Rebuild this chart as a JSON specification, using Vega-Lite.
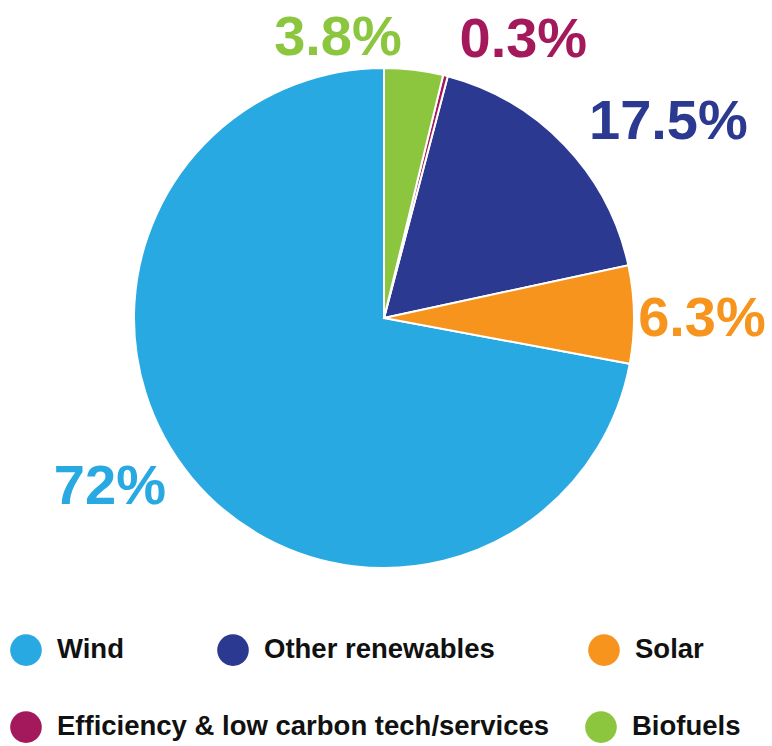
{
  "$schema": "https://vega.github.io/schema/vega-lite/v6.json",
  "width": 768,
  "height": 636,
  "autosize": {"type": "none"},
  "padding": {"left": 0, "top": 0, "right": 4, "bottom": 110},
  "background": "white",
  "view": {"stroke": null},
  "data": {
    "values": [
      {"category": "Wind", "value": 72, "label": "72%"},
      {"category": "Other renewables", "value": 17.5, "label": "17.5%"},
      {"category": "Solar", "value": 6.3, "label": "6.3%"},
      {"category": "Efficiency & low carbon tech/services", "value": 0.3, "label": "0.3%"},
      {"category": "Biofuels", "value": 3.8, "label": "3.8%"}
    ]
  },
  "layer": [
    {
      "mark": {"type": "arc", "radius": 250, "stroke": "white", "strokeWidth": 2},
      "encoding": {
        "theta": {"field": "value", "type": "quantitative", "stack": true},
        "order": {"field": "category", "sort": "ascending"},
        "color": {
          "field": "category", "type": "nominal",
          "scale": {
            "domain": ["Biofuels", "Efficiency & low carbon tech/services", "Other renewables", "Solar", "Wind"],
            "range": ["#8CC63F", "#A3195B", "#2B3990", "#F7941D", "#29A9E1"]
          },
          "legend": {
            "title": null, "orient": "none", "legendX": 10, "legendY": 634, "direction": "horizontal",
            "values": ["Wind", "Other renewables", "Solar"],
            "symbolType": "circle", "symbolSize": 1000, "symbolStrokeWidth": 0, "symbolOpacity": 1,
            "labelFontSize": 27.5, "labelFont": "Liberation Sans", "labelFontWeight": "bold", "labelColor": "#111111",
            "labelOffset": 15, "columnPadding": 93, "padding": 0, "labelLimit": 600
          }
        }
      }
    },
    {
      "mark": {"type": "text", "radius": 285, "dx": -80, "dy": 3, "fontSize": 56, "font": "Liberation Sans", "fontWeight": "bold", "baseline": "middle", "align": "center"},
      "encoding": {
        "theta": {"field": "value", "type": "quantitative", "stack": true},
        "order": {"field": "category", "sort": "ascending"},
        "fill": {
          "field": "category", "type": "nominal",
          "scale": {
            "domain": ["Wind", "Other renewables", "Solar", "Efficiency & low carbon tech/services", "Biofuels"],
            "range": ["#29A9E1", "#2B3990", "#F7941D", "#A3195B", "#8CC63F"]
          },
          "legend": {
            "title": null, "orient": "none", "legendX": 10, "legendY": 711, "direction": "horizontal",
            "values": ["Efficiency & low carbon tech/services", "Biofuels"],
            "symbolType": "circle", "symbolSize": 1000, "symbolStrokeWidth": 0, "symbolOpacity": 1,
            "labelFontSize": 27.5, "labelFont": "Liberation Sans", "labelFontWeight": "bold", "labelColor": "#111111",
            "labelOffset": 15, "columnPadding": 35, "padding": 0, "labelLimit": 600
          }
        },
        "text": {"condition": {"test": "datum.category === 'Biofuels'", "field": "label", "type": "nominal"}, "value": ""}
      }
    },
    {
      "mark": {"type": "text", "radius": 290, "dx": 68, "dy": 3, "fontSize": 56, "font": "Liberation Sans", "fontWeight": "bold", "baseline": "middle", "align": "center"},
      "encoding": {
        "theta": {"field": "value", "type": "quantitative", "stack": true},
        "order": {"field": "category", "sort": "ascending"},
        "fill": {"field": "category", "type": "nominal"},
        "text": {"condition": {"test": "datum.category === 'Efficiency & low carbon tech/services'", "field": "label", "type": "nominal"}, "value": ""}
      }
    },
    {
      "mark": {"type": "text", "radius": 320, "dx": 53, "dy": 25, "fontSize": 56, "font": "Liberation Sans", "fontWeight": "bold", "baseline": "middle", "align": "center"},
      "encoding": {
        "theta": {"field": "value", "type": "quantitative", "stack": true},
        "order": {"field": "category", "sort": "ascending"},
        "fill": {"field": "category", "type": "nominal"},
        "text": {"condition": {"test": "datum.category === 'Other renewables'", "field": "label", "type": "nominal"}, "value": ""}
      }
    },
    {
      "mark": {"type": "text", "radius": 318, "dy": 5, "fontSize": 56, "font": "Liberation Sans", "fontWeight": "bold", "baseline": "middle", "align": "center"},
      "encoding": {
        "theta": {"field": "value", "type": "quantitative", "stack": true},
        "order": {"field": "category", "sort": "ascending"},
        "fill": {"field": "category", "type": "nominal"},
        "text": {"condition": {"test": "datum.category === 'Solar'", "field": "label", "type": "nominal"}, "value": ""}
      }
    },
    {
      "mark": {"type": "text", "radius": 320, "dx": -28, "dy": -36, "fontSize": 56, "font": "Liberation Sans", "fontWeight": "bold", "baseline": "middle", "align": "center"},
      "encoding": {
        "theta": {"field": "value", "type": "quantitative", "stack": true},
        "order": {"field": "category", "sort": "ascending"},
        "fill": {"field": "category", "type": "nominal"},
        "text": {"condition": {"test": "datum.category === 'Wind'", "field": "label", "type": "nominal"}, "value": ""}
      }
    }
  ]
}
